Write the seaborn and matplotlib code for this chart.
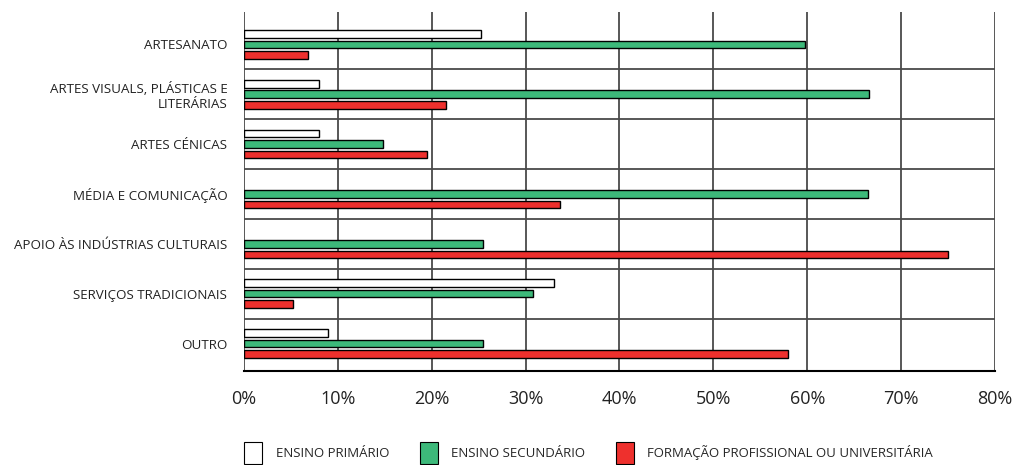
import numpy as np
import pandas as pd
import matplotlib
matplotlib.use("Agg")
import matplotlib.pyplot as plt
from matplotlib.patches import Patch
import seaborn as sns

categories = [
    "ARTESANATO",
    "ARTES VISUALS, PLÁSTICAS E\nLITERÁRIAS",
    "ARTES CÉNICAS",
    "MÉDIA E COMUNICAÇÃO",
    "APOIO ÀS INDÚSTRIAS CULTURAIS",
    "SERVIÇOS TRADICIONAIS",
    "OUTRO",
]
series = ["ENSINO PRIMÁRIO", "ENSINO SECUNDÁRIO", "FORMAÇÃO PROFISSIONAL OU UNIVERSITÁRIA"]
primario = [25.3, 8.0, 8.0, np.nan, np.nan, 33.0, 9.0]
secundario = [59.8, 66.6, 14.8, 66.5, 25.5, 30.8, 25.5]
formacao = [6.8, 21.5, 19.5, 33.7, 75.0, 5.2, 58.0]
x_ticks = [0, 10, 20, 30, 40, 50, 60, 70, 80]
x_tick_labels = ["0%", "10%", "20%", "30%", "40%", "50%", "60%", "70%", "80%"]

colors = ["#FFFFFF", "#3DB97A", "#EE302D"]

df = pd.DataFrame({
    "categoria": categories * 3,
    "nivel": [s for s in series for _ in categories],
    "valor": primario + secundario + formacao,
}).dropna()

sns.set_theme(style="white")
plt.rcParams["font.family"] = ["Open Sans", "DejaVu Sans"]

fig = plt.figure(figsize=(10.22, 4.65), dpi=100)
ax = fig.add_axes([0.2387, 0.2022, 0.7349, 0.7720])

sns.barplot(
    data=df, y="categoria", x="valor", hue="nivel",
    order=categories, hue_order=series, palette=colors, saturation=1,
    orient="h", width=0.63, gap=0.28, dodge=True,
    edgecolor="black", linewidth=1.0, legend=False, ax=ax,
)

ax.set_xlim(0, 80)
ax.set_ylim(len(categories) - 0.45, -0.65)
ax.set_xticks(x_ticks)
ax.set_xticklabels(x_tick_labels, fontsize=13, color="#222222")
ax.set_xlabel("")
ax.set_ylabel("")
ax.tick_params(axis="y", length=0, pad=12, labelsize=9.6, labelcolor="#222222")
ax.tick_params(axis="x", length=0, pad=14)
for lbl in ax.get_yticklabels():
    lbl.set_horizontalalignment("right")

# grid: vertical lines at ticks, horizontal separators between categories
for xv in x_ticks:
    ax.axvline(xv, color="#4a4a4a", lw=1.3, zorder=0)
for k in range(len(categories) - 1):
    ax.axhline(k + 0.5, color="#4a4a4a", lw=1.3, zorder=0)

for side in ["top", "right", "left"]:
    ax.spines[side].set_visible(False)
ax.spines["bottom"].set_color("black")
ax.spines["bottom"].set_linewidth(1.5)

handles = [Patch(facecolor=c, edgecolor="black", linewidth=0.8) for c in colors]
fig.legend(
    handles, series, loc="center", bbox_to_anchor=(0.576, 0.026), ncol=3,
    frameon=False, fontsize=9.5, handlelength=1.36, handleheight=2.2,
    columnspacing=2.35, handletextpad=1.0,
)

fig.savefig("out.png", dpi=100)
